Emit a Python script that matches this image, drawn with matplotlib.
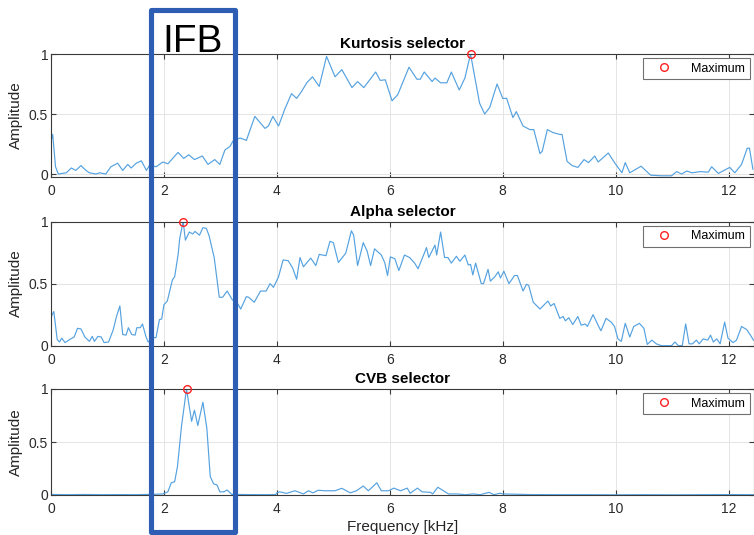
import matplotlib
matplotlib.use("Agg")
import matplotlib.pyplot as plt
import matplotlib.transforms as mtransforms
from matplotlib.patches import Rectangle
import numpy as np

plt.rcParams['font.family'] = ['Liberation Sans', 'DejaVu Sans']

# frequency axis in kHz, amplitudes normalised to the maximum
kurt_f = [0.00, 0.03, 0.08, 0.13, 0.27, 0.36, 0.44, 0.53, 0.62, 0.68, 0.80, 0.86, 0.97,
          1.06, 1.18, 1.27, 1.36, 1.42, 1.51, 1.60, 1.69, 1.75, 1.86, 1.98, 2.07, 2.25,
          2.35, 2.44, 2.54, 2.68, 2.78, 2.90, 2.99, 3.08, 3.17, 3.23, 3.35, 3.46, 3.61,
          3.79, 3.85, 3.93, 4.03, 4.14, 4.26, 4.35, 4.44, 4.53, 4.63, 4.75, 4.88, 5.03,
          5.15, 5.33, 5.43, 5.54, 5.75, 5.83, 5.92, 6.04, 6.14, 6.34, 6.48, 6.54, 6.61,
          6.75, 6.80, 6.90, 7.01, 7.09, 7.23, 7.33, 7.43, 7.59, 7.68, 7.77, 7.90, 8.00,
          8.07, 8.18, 8.24, 8.36, 8.48, 8.55, 8.66, 8.70, 8.79, 8.89, 9.01, 9.05, 9.14,
          9.23, 9.33, 9.44, 9.52, 9.63, 9.69, 9.87, 9.98, 10.11, 10.17, 10.25, 10.45,
          10.62, 10.81, 10.99, 11.08, 11.17, 11.26, 11.35, 11.50, 11.64, 11.70, 11.82,
          12.02, 12.11, 12.23, 12.33, 12.37, 12.43]
kurt_a = [0.27, 0.33, 0.06, 0.00, 0.01, 0.05, 0.03, 0.07, 0.03, 0.01, 0.00, 0.01, 0.00,
          0.06, 0.09, 0.03, 0.08, 0.05, 0.09, 0.11, 0.03, 0.075, 0.06, 0.10, 0.085, 0.18,
          0.13, 0.16, 0.12, 0.15, 0.08, 0.12, 0.08, 0.20, 0.23, 0.28, 0.30, 0.28, 0.48,
          0.38, 0.40, 0.48, 0.40, 0.54, 0.67, 0.63, 0.69, 0.76, 0.81, 0.73, 0.98, 0.81,
          0.87, 0.72, 0.77, 0.72, 0.85, 0.78, 0.785, 0.61, 0.66, 0.89, 0.79, 0.79, 0.85,
          0.77, 0.80, 0.76, 0.76, 0.85, 0.70, 0.80, 1.00, 0.59, 0.50, 0.555, 0.75, 0.63,
          0.63, 0.47, 0.52, 0.40, 0.37, 0.37, 0.17, 0.19, 0.37, 0.345, 0.33, 0.33, 0.105,
          0.07, 0.055, 0.12, 0.095, 0.15, 0.10, 0.175, 0.095, 0.01, 0.095, 0.01, 0.065,
          -0.01, -0.015, -0.015, 0.02, 0.00, 0.025, 0.01, 0.02, 0.015, 0.06, 0.005,
          0.055, 0.01, 0.08, 0.215, 0.215, 0.04]

alpha_f = [0.00, 0.02, 0.05, 0.11, 0.15, 0.19, 0.25, 0.33, 0.41, 0.47, 0.53, 0.60, 0.68,
           0.73, 0.77, 0.83, 0.89, 0.94, 1.02, 1.10, 1.16, 1.22, 1.27, 1.33, 1.37, 1.43,
           1.49, 1.52, 1.58, 1.62, 1.68, 1.72, 1.82, 1.86, 1.92, 1.96, 2.00, 2.06, 2.15,
           2.19, 2.25, 2.28, 2.34, 2.38, 2.45, 2.51, 2.55, 2.63, 2.69, 2.75, 2.80, 2.89,
           2.98, 3.04, 3.12, 3.21, 3.29, 3.36, 3.46, 3.50, 3.60, 3.71, 3.81, 3.88, 3.94,
           4.03, 4.11, 4.20, 4.28, 4.35, 4.41, 4.47, 4.60, 4.69, 4.75, 4.87, 4.94, 5.00,
           5.09, 5.22, 5.32, 5.36, 5.43, 5.53, 5.60, 5.66, 5.73, 5.85, 5.91, 5.96, 6.01,
           6.09, 6.16, 6.26, 6.35, 6.44, 6.50, 6.59, 6.65, 6.69, 6.80, 6.83, 6.90, 6.97,
           7.03, 7.09, 7.18, 7.24, 7.33, 7.39, 7.43, 7.47, 7.52, 7.62, 7.66, 7.74, 7.78,
           7.86, 7.92, 7.96, 8.02, 8.11, 8.21, 8.26, 8.36, 8.42, 8.46, 8.54, 8.66, 8.80,
           8.85, 8.91, 9.01, 9.07, 9.11, 9.17, 9.24, 9.33, 9.39, 9.46, 9.50, 9.60, 9.71,
           9.74, 9.83, 9.92, 9.98, 10.04, 10.10, 10.17, 10.25, 10.32, 10.42, 10.50, 10.56,
           10.64, 10.72, 10.81, 10.99, 11.05, 11.11, 11.18, 11.24, 11.30, 11.36, 11.43,
           11.48, 11.55, 11.63, 11.68, 11.73, 11.79, 11.85, 11.93, 11.99, 12.08, 12.14,
           12.23, 12.32, 12.38, 12.44]
alpha_a = [0.22, 0.25, 0.275, 0.05, 0.03, 0.06, 0.025, 0.05, 0.07, 0.14, 0.135, 0.07, 0.035,
           0.075, 0.035, 0.075, 0.07, 0.025, 0.03, 0.125, 0.235, 0.32, 0.09, 0.085, 0.145, 0.09,
           0.085, 0.145, 0.145, 0.175, 0.075, 0.03, 0.065, 0.065, 0.21, 0.215, 0.33, 0.36, 0.53,
           0.555, 0.73, 0.865, 1.00, 0.85, 0.915, 0.90, 0.92, 0.89, 0.95, 0.945, 0.885, 0.71,
           0.39, 0.39, 0.44, 0.37, 0.35, 0.295, 0.395, 0.39, 0.35, 0.44, 0.44, 0.50, 0.47,
           0.555, 0.69, 0.685, 0.625, 0.535, 0.71, 0.635, 0.705, 0.645, 0.735, 0.725, 0.84, 0.83,
           0.67, 0.745, 0.925, 0.89, 0.645, 0.83, 0.76, 0.645, 0.78, 0.73, 0.67, 0.565, 0.715,
           0.70, 0.605, 0.73, 0.71, 0.665, 0.62, 0.72, 0.79, 0.71, 0.81, 0.73, 0.915, 0.71,
           0.71, 0.665, 0.72, 0.68, 0.73, 0.65, 0.655, 0.57, 0.665, 0.50, 0.50, 0.615, 0.52,
           0.555, 0.595, 0.545, 0.60, 0.50, 0.565, 0.565, 0.44, 0.495, 0.485, 0.35, 0.295, 0.36,
           0.32, 0.34, 0.22, 0.235, 0.20, 0.225, 0.17, 0.235, 0.165, 0.175, 0.155, 0.25, 0.145,
           0.12, 0.22, 0.19, 0.155, 0.055, 0.035, 0.18, 0.07, 0.155, 0.18, 0.14, 0.01,
           0.045, 0.015, 0.00, 0.00, 0.03, 0.00, 0.00, 0.175, 0.015, 0.015, 0.045,
           0.015, 0.055, 0.045, 0.085, 0.03, 0.055, 0.015, 0.19, 0.06, 0.025, 0.045,
           0.155, 0.13, 0.09, 0.045]

cvb_f = [0.00, 0.30, 0.60, 0.90, 1.20, 1.50, 1.78, 1.98, 2.07, 2.13, 2.19, 2.24, 2.31, 2.40,
         2.49, 2.54, 2.60, 2.69, 2.76, 2.82, 2.88, 2.94, 2.99, 3.06, 3.12, 3.20, 3.50, 3.80,
         3.98, 4.00, 4.05, 4.17, 4.32, 4.47, 4.56, 4.64, 4.73, 4.85, 5.03, 5.15, 5.30, 5.41,
         5.53, 5.62, 5.77, 5.85, 5.98, 6.07, 6.19, 6.31, 6.36, 6.49, 6.57, 6.72, 6.76, 6.85,
         6.95, 7.04, 7.19, 7.34, 7.48, 7.60, 7.76, 7.84, 7.95, 8.01, 8.50, 9.00, 9.50, 10.00,
         10.50, 11.00, 11.50, 12.00, 12.45]
cvb_a = [0.005, 0.003, 0.005, 0.003, 0.004, 0.003, 0.006, 0.01, 0.03, 0.115, 0.125, 0.27, 0.645, 1.00,
         0.695, 0.80, 0.655, 0.875, 0.63, 0.175, 0.105, 0.095, 0.03, 0.03, 0.047, 0.006, 0.004, 0.003,
         0.004, 0.02, 0.03, 0.015, 0.04, 0.01, 0.04, 0.02, 0.045, 0.04, 0.04, 0.063, 0.02, 0.04,
         0.085, 0.04, 0.115, 0.04, 0.04, 0.065, 0.04, 0.065, 0.016, 0.065, 0.03, 0.025, 0.01, 0.073,
         0.04, 0.01, 0.01, 0.003, 0.01, 0.003, 0.025, 0.003, 0.016, 0.01, 0.004, 0.003, 0.003, 0.002,
         0.003, 0.002, 0.003, 0.004, 0.003]

titles = ["Kurtosis selector", "Alpha selector", "CVB selector"]
series = [(kurt_f, kurt_a), (alpha_f, alpha_a), (cvb_f, cvb_a)]
ylims = [(-0.025, 1), (0, 1), (0, 1)]

# informative frequency band [kHz]
ifb_band = (1.77, 3.26)

line_col = '#55a2e0'

fig = plt.figure(figsize=(7.54, 5.35), dpi=100)
fig.patch.set_facecolor('white')

# axes boxes in pixels: top, bottom edge (y from top of figure)
boxes = [(54, 177), (221.5, 345.7), (389, 495)]
W, H = 754.0, 535.0
axes = []
for (top, bot), title, (f, a), yl in zip(boxes, titles, series, ylims):
    ax = fig.add_axes([51 / W, 1 - bot / H, (W - 51) / W, (bot - top) / H])
    f = np.asarray(f)
    a = np.asarray(a)
    ax.plot(f, a, color=line_col, lw=0.85)
    i = np.argmax(a)
    ax.plot(f[i], a[i], 'o', mfc='none', mec='#ff2020', mew=1.0, ms=5.5,
            label='Maximum', clip_on=False, zorder=5)
    ax.set_xlim(0, 12.45)
    ax.set_ylim(*yl)
    ax.set_xticks(np.arange(0, 13, 2))
    ax.set_yticks([0, 0.5, 1])
    ax.set_yticklabels(['0', '0.5', '1'])
    ax.grid(True, color='#e4e4e4', lw=0.7)
    ax.set_axisbelow(True)
    for s in ax.spines.values():
        s.set_color('#3a3a3a')
        s.set_linewidth(0.8)
    ax.tick_params(direction='in', top=True, right=True, length=3.5, width=0.8,
                   color='#3a3a3a', labelcolor='#2a2a2a', labelsize=10)
    ax.tick_params(axis='x', pad=5)
    ax.tick_params(axis='y', pad=2)
    ax.set_ylabel('Amplitude', fontsize=11, color='#262626', labelpad=4)
    ax.set_title(title, fontsize=11, fontweight='bold', pad=4)
    leg = ax.legend(loc='upper right', fontsize=9, fancybox=False, framealpha=1,
                    edgecolor='#707070', handlelength=2.6, handletextpad=0.9,
                    borderpad=0.35, borderaxespad=0.35, numpoints=1)
    leg.get_frame().set_linewidth(0.8)
    axes.append(ax)

axes[-1].set_xlabel('Frequency [kHz]', fontsize=11, color='#262626', labelpad=3)

# IFB box drawn over all three panels: x in kHz, y in figure fraction
trans = mtransforms.blended_transform_factory(axes[0].transData, fig.transFigure)
rect = Rectangle((ifb_band[0], 1 - 532 / H), ifb_band[1] - ifb_band[0], (532 - 9.8) / H,
                 transform=trans, fill=False, edgecolor='#2e5eb4', lw=3.7,
                 joinstyle='round', clip_on=False, zorder=20)
fig.add_artist(rect)
fig.text(sum(ifb_band) / 2, 0.922, 'IFB', transform=trans, fontsize=28,
         ha='center', va='center', color='black')

fig.savefig('out.png', dpi=100, facecolor='white')
